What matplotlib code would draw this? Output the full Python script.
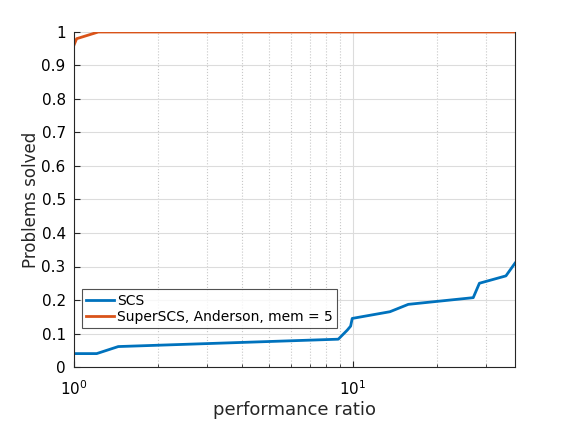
import numpy as np
import matplotlib
matplotlib.use('Agg')
import matplotlib.pyplot as plt
from matplotlib.ticker import LogLocator, NullFormatter, FixedLocator

# Performance profile data
scs_ratio = [1.0, 1.206, 1.441, 8.86, 9.54, 9.81, 9.94, 13.57, 15.79, 26.99, 28.4, 35.35, 38.1]
scs_solved = [0.04, 0.04, 0.061, 0.083, 0.110, 0.122, 0.145, 0.165, 0.187, 0.207, 0.25, 0.272, 0.31]

super_ratio = [1.0, 1.022, 1.222, 38.1]
super_solved = [0.961, 0.980, 1.0, 1.0]

x_max = 38.1

fig = plt.figure(figsize=(5.7, 4.22), dpi=100)
ax = fig.add_axes([74 / 570, 55 / 422, (515 - 74) / 570, (367 - 32) / 422])

ax.plot(scs_ratio, scs_solved, color='#0072BD', lw=2, label='SCS')
ax.plot(super_ratio, super_solved, color='#D95319', lw=2, label='SuperSCS, Anderson, mem = 5')

ax.set_xscale('log')
ax.set_xlim(1, x_max)
ax.set_ylim(0, 1)
ax.set_yticks(np.arange(0, 1.01, 0.1))
ax.set_yticklabels(['0', '0.1', '0.2', '0.3', '0.4', '0.5', '0.6', '0.7', '0.8', '0.9', '1'])
ax.xaxis.set_major_locator(FixedLocator([1, 10]))
ax.set_xticklabels([r'$10^0$', r'$10^1$'])
ax.xaxis.set_minor_locator(LogLocator(base=10, subs=np.arange(2, 10)))
ax.xaxis.set_minor_formatter(NullFormatter())

ax.grid(True, which='major', color='#dcdcdc', lw=0.8)
ax.grid(True, which='minor', axis='x', color='#c8c8c8', ls=':', lw=0.8)
ax.set_axisbelow(True)

ax.tick_params(direction='in', which='both', labelsize=11, color='#262626')
ax.tick_params(which='major', length=4)
ax.tick_params(which='minor', length=2)
ax.tick_params(axis='x', which='major', pad=9)
ax.tick_params(axis='y', which='major', pad=6)
ax.tick_params(top=False, right=False, which='both')
for s in ax.spines.values():
    s.set_color('#262626')
ax.spines['top'].set_visible(False)

ax.set_xlabel('performance ratio', fontsize=13, color='#262626', labelpad=2)
ax.set_ylabel('Problems solved', fontsize=12, color='#262626', labelpad=1)

leg = ax.legend(loc='lower left', bbox_to_anchor=(0.018, 0.115), fontsize=10,
                frameon=True, fancybox=False, edgecolor='#262626',
                handlelength=2.0, handletextpad=0.2, borderpad=0.3,
                borderaxespad=0, labelspacing=0.2)
leg.get_frame().set_linewidth(0.8)

fig.savefig('out.png', dpi=100)
